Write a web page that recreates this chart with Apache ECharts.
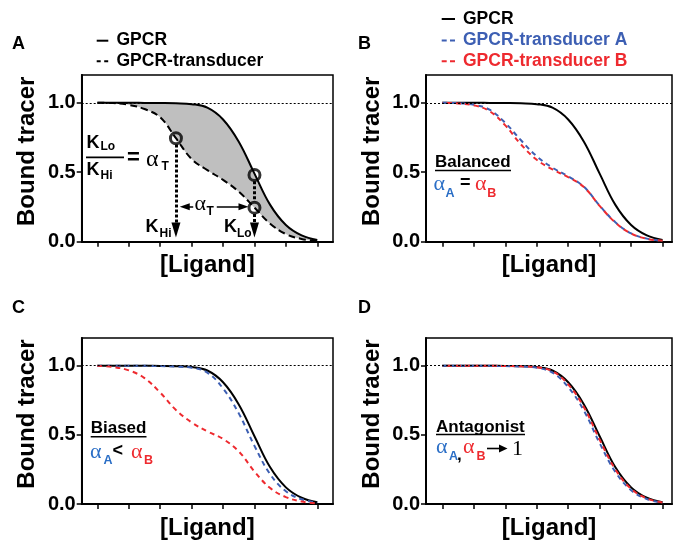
<!DOCTYPE html>
<html>
<head>
<meta charset="utf-8">
<script src="https://cdn.jsdelivr.net/npm/echarts@6.0.0/dist/echarts.min.js"></script>
<style>
html,body{margin:0;padding:0;background:#fff;}
#chart{width:673px;height:541px;}
</style>
</head>
<body>
<div id="chart"></div>
<script>
// ---- data ----
const xs = [0,0.5,1,1.5,2,2.5,3,3.5,4,4.5,5,5.5,6,6.5,7];
const gpcr         = [1.000,1.000,1.000,0.999,0.998,0.996,0.990,0.965,0.880,0.720,0.490,0.265,0.120,0.045,0.012];
const transducerA  = [1.000,0.998,0.985,0.955,0.895,0.745,0.595,0.515,0.445,0.360,0.245,0.130,0.055,0.020,0.006];
const balancedBlue = [1.000,0.997,0.986,0.950,0.855,0.730,0.615,0.533,0.470,0.395,0.260,0.140,0.060,0.022,0.007];
const balancedRed  = [1.000,0.995,0.982,0.940,0.837,0.700,0.590,0.520,0.465,0.393,0.258,0.138,0.059,0.021,0.007];
const biasedBlue   = [1.000,1.000,1.000,0.999,0.997,0.993,0.985,0.950,0.835,0.655,0.420,0.215,0.092,0.034,0.010];
const biasedRed    = [1.000,0.990,0.966,0.910,0.805,0.680,0.590,0.525,0.470,0.380,0.235,0.115,0.050,0.018,0.005];
const antagBlue    = [1.000,1.000,1.000,0.999,0.997,0.994,0.985,0.950,0.845,0.675,0.440,0.232,0.100,0.036,0.010];
const antagRed     = [1.000,1.000,1.000,0.999,0.998,0.995,0.988,0.960,0.865,0.700,0.465,0.250,0.110,0.040,0.011];
const circles = [[2.5,0.745],[5,0.48],[5,0.245]];
const xTicks = [0,1,2,3,4,5,6,7];
const yTicks = [0,0.5,1.0];
const panelLetters = ['A','B','C','D'];

// ---- styling ----
const FONT = '"Liberation Sans", Arial, Helvetica, sans-serif';
const SERIF = '"Liberation Serif", "Times New Roman", serif';
const BLUE = '#3d5fb3', RED = '#ee2a2f', ABLUE = '#2a6ec6', GRAY = '#bfbfbf';
const SM = 0.4;

function mk(ys){ return xs.map((x,i)=>[x, ys[i]]); }
// y first so that stacking acts on the y dimension
function mkYX(ys){ return xs.map((x,i)=>[ys[i], x]); }

const grids = [
  {left:81.7, top:75, width:251.3, height:166.7},
  {left:426, top:75, width:246, height:166.7},
  {left:81.7, top:338, width:251.3, height:166.7},
  {left:426, top:338, width:246, height:166.7}
].map(g => Object.assign(g, {show:true, borderColor:'#000', borderWidth:1.5, backgroundColor:'transparent'}));

const xRanges = [[-0.5,7.5],[-0.52,7.3],[-0.5,7.5],[-0.52,7.3]];

const xAxes = xRanges.map((r,i)=>({
  gridIndex:i, type:'value', min:r[0], max:r[1],
  axisLine:{show:true, onZero:false, lineStyle:{color:'#000', width:2}},
  axisTick:{show:true, inside:false, length:5, customValues:xTicks, lineStyle:{color:'#000', width:1.5}},
  axisLabel:{show:false}, splitLine:{show:false},
  name:'[Ligand]', nameLocation:'middle', nameGap:12,
  nameTextStyle:{fontSize:24, fontWeight:'bold', color:'#000', fontFamily:FONT}
}));
const yAxes = [0,1,2,3].map(i=>({
  gridIndex:i, type:'value', min:0, max:1.2,
  axisLine:{show:true, onZero:false, lineStyle:{color:'#000', width:2}},
  axisTick:{show:true, inside:false, length:5, customValues:yTicks, lineStyle:{color:'#000', width:1.5}},
  axisLabel:{show:true, customValues:yTicks, formatter:v=>Number(v).toFixed(1), fontSize:20, fontWeight:'bold', color:'#000', fontFamily:FONT, margin:6},
  splitLine:{show:false},
  name:'Bound tracer', nameLocation:'middle', nameGap:42,
  nameTextStyle:{fontSize:24, fontWeight:'bold', color:'#000', fontFamily:FONT, padding:[0,0,0,14]}
}));

const refLine = {silent:true, symbol:['none','none'], label:{show:false}, z:10,
  lineStyle:{color:'#000', type:[2,2], width:1}, data:[{yAxis:1}]};

function line(i, name, ys, color, dash, z, extra){
  return Object.assign({
    type:'line', name:name, xAxisIndex:i, yAxisIndex:i, data:mk(ys),
    smooth:SM, symbol:'none', showSymbol:false, silent:true, z:z||3,
    lineStyle:{color:color, width:2, type:dash||'solid'}
  }, extra||{});
}

const dotted = {color:'#000', width:3, type:[3,2]};
const arrowSolid = {color:'#000', width:1.5, type:'solid'};
const series = [
  // Panel A: grey band between the GPCR and GPCR-transducer curves (stacked)
  {type:'line', xAxisIndex:0, yAxisIndex:0, data:mkYX(transducerA), encode:{x:1, y:0},
   dimensions:['y','x'], stack:'gapA', smooth:SM,
   symbol:'none', silent:true, z:1, lineStyle:{width:0, opacity:0}},
  {type:'line', xAxisIndex:0, yAxisIndex:0, data:mkYX(gpcr.map((v,i)=>+(v-transducerA[i]).toFixed(4))),
   encode:{x:1, y:0}, dimensions:['y','x'], stack:'gapA', smooth:SM,
   symbol:'none', silent:true, z:1, lineStyle:{width:0, opacity:0},
   areaStyle:{color:GRAY, opacity:1}},
  line(0,'GPCR',gpcr,'#000','solid',3,{markLine:refLine}),
  line(0,'GPCR-transducer',transducerA,'#000',[7,4],3),
  {type:'scatter', xAxisIndex:0, yAxisIndex:0, data:circles, symbol:'circle', symbolSize:11, silent:true, z:6,
   itemStyle:{color:'rgba(0,0,0,0)', borderColor:'#000', borderWidth:3},
   markLine:{silent:true, symbol:['none','none'], label:{show:false}, z:5,
     data:[
       [{coord:[2.5,0.70], lineStyle:dotted}, {coord:[2.5,0.085], symbol:'triangle', symbolSize:[9,15]}],
       [{coord:[5,0.435], lineStyle:dotted}, {coord:[5,0.29]}],
       [{coord:[5,0.20], lineStyle:dotted}, {coord:[5,0.085], symbol:'triangle', symbolSize:[9,15]}],
       [{coord:[3.05,0.251], lineStyle:arrowSolid}, {coord:[2.78,0.251], symbol:'triangle', symbolSize:[7,10]}],
       [{coord:[3.80,0.251], lineStyle:arrowSolid}, {coord:[4.65,0.251], symbol:'triangle', symbolSize:[7,10]}]
     ]}},
  // Panel B
  line(1,'GPCR',gpcr,'#000','solid',3,{markLine:refLine}),
  line(1,'GPCR-transducer A',balancedBlue,BLUE,[5,4],4),
  line(1,'GPCR-transducer B',balancedRed,RED,[5,4],5,{lineStyle:{color:RED,width:2,type:[5,4],dashOffset:4.5}}),
  // Panel C
  line(2,'GPCR',gpcr,'#000','solid',3,{markLine:refLine}),
  line(2,'GPCR-transducer A',biasedBlue,BLUE,[5,4],4),
  line(2,'GPCR-transducer B',biasedRed,RED,[5,4],5),
  // Panel D
  line(3,'GPCR',gpcr,'#000','solid',3,{markLine:refLine}),
  line(3,'GPCR-transducer A',antagBlue,BLUE,[5,4],4),
  line(3,'GPCR-transducer B',antagRed,RED,[5,4],5,{lineStyle:{color:RED,width:2,type:[5,4],dashOffset:4.5}})
];

// ---- annotations ----
function txt(x, y, s, size, color, family, weight){
  return {type:'text', x:x, y:y, silent:true, z:100,
    style:{text:s, font:(weight||'bold')+' '+size+'px '+(family||FONT), fill:color||'#000',
      textAlign:'left', textVerticalAlign:'middle'}};
}
function ln(x1,y1,x2,y2,w,color,dash){
  return {type:'line', silent:true, z:100, shape:{x1:x1,y1:y1,x2:x2,y2:y2},
    style:{stroke:color||'#000', lineWidth:w||2, lineDash:dash||null}};
}
function alpha(x, y, color, size){ return txt(x, y-2.4, 'α', size||22, color, SERIF, 'normal'); }

const graphics = [
  // legend A
  ln(96.7,40.7,108.3,40.7,2,'#000'),
  txt(116.5,40.5,'GPCR',17.5),
  ln(96.7,61.3,108.3,61.3,2,'#000',[4,3.5]),
  txt(116.5,60.8,'GPCR-transducer',17.5),
  // legend B
  ln(441.7,19,455,19,2,'#000'),
  txt(463,18.8,'GPCR',17.5),
  ln(441.7,40.5,455,40.5,2,BLUE,[5,3.3]),
  txt(463,40,'GPCR-transducer A',17.5,BLUE),
  ln(441.7,61.3,455,61.3,2,RED,[5,3.3]),
  txt(463,60.8,'GPCR-transducer B',17.5,RED),
  // Panel A fraction K_Lo / K_Hi = alpha_T
  txt(86.5,143.5,'K',18), txt(100.5,147,'Lo',12),
  ln(86,157.3,124,157.3,1.8),
  txt(86.5,170,'K',18), txt(100.5,176,'Hi',12),
  txt(127,158,'=',22),
  alpha(146,162,'#000',24), txt(161.5,167,'T',12),
  // middle alpha_T
  alpha(194.5,207,'#000',22), txt(206.5,212,'T',12),
  // K_Hi, K_Lo labels
  txt(145.5,227.5,'K',18), txt(159.5,234,'Hi',12),
  txt(224,227.5,'K',18), txt(237,234,'Lo',12),
  // Panel B: Balanced
  txt(435,162,'Balanced',17), ln(435,170.5,511,170.5,1.6),
  alpha(433.5,186.7,ABLUE), txt(445.5,193.5,'A',12.5,ABLUE),
  txt(460,183.5,'=',18),
  alpha(475,186.7,RED), txt(487.3,193.5,'B',12.5,RED),
  // Panel C: Biased
  txt(90.7,428.7,'Biased',17), ln(90.7,436.7,146.5,436.7,1.6),
  alpha(90,455,ABLUE), txt(103.5,461,'A',12.5,ABLUE),
  txt(112.5,451.5,'<',18),
  alpha(131,455,RED), txt(144,461,'B',12.5,RED),
  // Panel D: Antagonist
  txt(436,427,'Antagonist',17), ln(436,434.5,525,434.5,1.6),
  alpha(436,450,ABLUE), txt(449,456.7,'A',12.5,ABLUE),
  txt(457,455,',',17),
  alpha(463,450,RED), txt(476.5,456.7,'B',12.5,RED),
  ln(487,448.5,501,448.5,1.6),
  {type:'polygon', silent:true, z:100, shape:{points:[[499,444.5],[507.5,448.5],[499,452.5]]}, style:{fill:'#000'}},
  txt(512,449,'1',22,'#000',SERIF,'normal')
];

const titles = panelLetters.map((t,i)=>({
  text:t, left:(i%2===0)?12:358, top:(i<2)?35:299, padding:0,
  textStyle:{fontSize:18, fontWeight:'bold', color:'#000', fontFamily:FONT}
}));

const chart = echarts.init(document.getElementById('chart'), null, {renderer:'canvas'});
chart.setOption({
  animation:false,
  backgroundColor:'#fff',
  textStyle:{fontFamily:FONT},
  title:titles,
  grid:grids,
  xAxis:xAxes,
  yAxis:yAxes,
  series:series,
  graphic:{elements:graphics}
});
</script>
</body>
</html>
